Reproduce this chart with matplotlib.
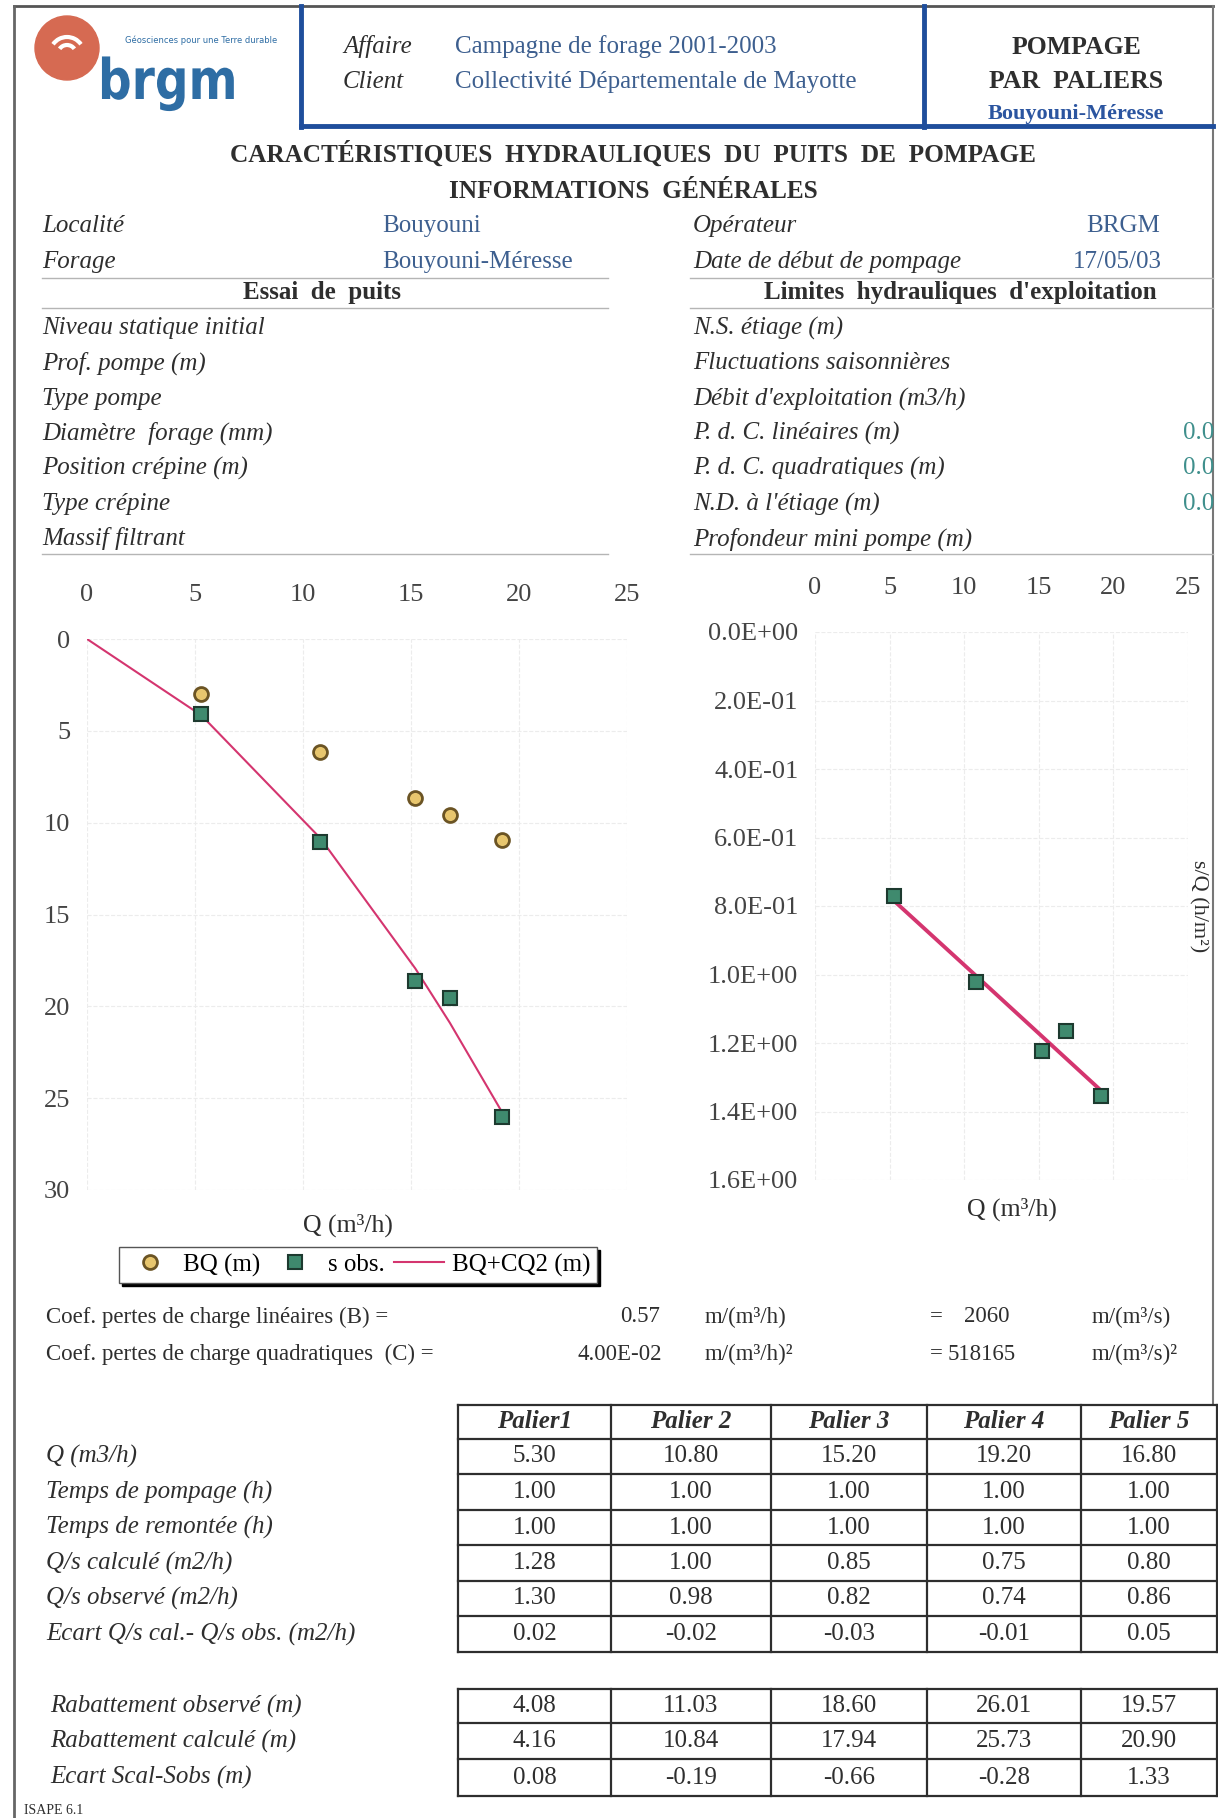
import matplotlib
matplotlib.use('Agg')
import matplotlib.pyplot as plt
from matplotlib.patches import Circle, Arc, PathPatch
from matplotlib.textpath import TextPath
from matplotlib.font_manager import FontProperties
from matplotlib.transforms import Affine2D

plt.rcParams['font.family'] = ['Liberation Serif', 'DejaVu Serif']

# ---- data ----
paliers = ['Palier1', 'Palier 2', 'Palier 3', 'Palier 4', 'Palier 5']
q = [5.30, 10.80, 15.20, 19.20, 16.80]
t_pompage = [1.00, 1.00, 1.00, 1.00, 1.00]
t_remontee = [1.00, 1.00, 1.00, 1.00, 1.00]
qs_calc = [1.28, 1.00, 0.85, 0.75, 0.80]
qs_obs = [1.30, 0.98, 0.82, 0.74, 0.86]
qs_ecart = [0.02, -0.02, -0.03, -0.01, 0.05]
rab_obs = [4.08, 11.03, 18.60, 26.01, 19.57]
rab_calc = [4.16, 10.84, 17.94, 25.73, 20.90]
rab_ecart = [0.08, -0.19, -0.66, -0.28, 1.33]

bq = [3.02, 6.16, 8.66, 10.94, 9.58]
curve_q = [0, 5.30, 10.80, 15.20, 16.80, 19.20]
curve_s = [0, 4.16, 10.84, 17.94, 20.90, 25.73]

sq_obs = [0.770, 1.021, 1.224, 1.355, 1.165]
sq_line_q = [5.30, 10.80, 15.20, 16.80, 19.20]
sq_line = [0.785, 1.004, 1.180, 1.244, 1.340]

left_labels = ['Niveau statique initial', 'Prof. pompe (m)', 'Type pompe',
               'Diamètre  forage (mm)', 'Position crépine (m)', 'Type crépine',
               'Massif filtrant']
right_labels = ['N.S. étiage (m)', 'Fluctuations saisonnières',
                "Débit d'exploitation (m3/h)", 'P. d. C. linéaires (m)',
                'P. d. C. quadratiques (m)', "N.D. à l'étiage (m)",
                'Profondeur mini pompe (m)']
right_values = ['', '', '', '0.0', '0.0', '0.0', '']
table1_labels = ['Q (m3/h)', 'Temps de pompage (h)', 'Temps de remontée (h)',
                 'Q/s calculé (m2/h)', 'Q/s observé (m2/h)',
                 'Ecart Q/s cal.- Q/s obs. (m2/h)']
table2_labels = ['Rabattement observé (m)', 'Rabattement calculé (m)',
                 'Ecart Scal-Sobs (m)']

W, H = 1218, 1818
fig = plt.figure(figsize=(W / 100, H / 100), dpi=100)
fig.patch.set_facecolor('white')

ov = fig.add_axes([0, 0, 1, 1])
ov.set_xlim(0, W)
ov.set_ylim(H, 0)
ov.axis('off')

dark = '#2e2e2e'
blue_txt = '#3d5f8f'
teal = '#3f8f8c'


def txt(x, y, s, **kw):
    kw.setdefault('va', 'center')
    kw.setdefault('color', dark)
    kw.setdefault('fontsize', 18)
    ov.text(x, y, s, **kw)


def hline(y, x0, x1, **kw):
    ov.plot([x0, x1], [y, y], **kw)


def vline(x, y0, y1, **kw):
    ov.plot([x, x], [y0, y1], **kw)


# ---- page frame and header ----
hline(6, 14, 1213, color='#555555', lw=2)
vline(14, 6, H, color='#666666', lw=2)
vline(1213, 6, 1403, color='#777777', lw=1.5)
blue = '#1f4e9c'
vline(301, 6, 127, color=blue, lw=3.5)
vline(924, 6, 127, color=blue, lw=3.5)
hline(126, 301, 1213, color=blue, lw=3.5)

ov.add_patch(Circle((67, 48), 32, color='#d66a52', zorder=3))
for r in (9, 17):
    ov.add_patch(Arc((67, 54), 2 * r, 2 * r, theta1=215, theta2=325,
                     color='white', lw=3, zorder=4))
logo = TextPath((0, 0), 'brgm', size=56,
                prop=FontProperties(family='DejaVu Sans', weight='bold'))
ov.add_patch(PathPatch(logo, color='#2e6da4', lw=0,
                       transform=Affine2D().scale(0.84, -1).translate(98, 99)
                       + ov.transData))
ov.text(125, 40, 'Géosciences pour une Terre durable', family='DejaVu Sans',
        fontsize=6, color='#2e6da4', va='center')

txt(343, 47, 'Affaire', style='italic')
txt(343, 82, 'Client', style='italic')
txt(455, 47, 'Campagne de forage 2001-2003', color=blue_txt)
txt(455, 82, 'Collectivité Départementale de Mayotte', color=blue_txt)
txt(1076, 47, 'POMPAGE', ha='center', weight='bold', fontsize=18.5)
txt(1076, 81, 'PAR  PALIERS', ha='center', weight='bold', fontsize=18.5)
txt(1076, 114, 'Bouyouni-Méresse', ha='center', weight='bold', fontsize=16,
    color='#2b55a0')

txt(633, 154, 'CARACTÉRISTIQUES  HYDRAULIQUES  DU  PUITS  DE  POMPAGE',
    ha='center', weight='bold', fontsize=18.2)
txt(633, 191, 'INFORMATIONS  GÉNÉRALES', ha='center', weight='bold',
    fontsize=18.2)

# ---- general information ----
txt(42, 226, 'Localité', style='italic')
txt(42, 262, 'Forage', style='italic')
txt(382, 226, 'Bouyouni', color=blue_txt)
txt(382, 262, 'Bouyouni-Méresse', color=blue_txt)
txt(693, 226, 'Opérateur', style='italic')
txt(693, 262, 'Date de début de pompage', style='italic')
txt(1160, 226, 'BRGM', color=blue_txt, ha='right')
txt(1162, 262, '17/05/03', color=blue_txt, ha='right')

for y in (278, 308, 554):
    hline(y, 42, 608, color='#b5b5b5', lw=1)
    hline(y, 690, 1213, color='#b5b5b5', lw=1)
txt(322, 293, 'Essai  de  puits', ha='center', weight='bold')
txt(960, 293, "Limites  hydrauliques  d'exploitation", ha='center',
    weight='bold')

row_y = [328, 363, 399, 433, 468, 504, 539]
for y, lab in zip(row_y, left_labels):
    txt(42, y, lab, style='italic')
for y, lab, val in zip(row_y, right_labels, right_values):
    txt(693, y, lab, style='italic')
    if val:
        txt(1183, y, val, color=teal)

# ---- drawdown chart ----
ax1 = fig.add_axes([87 / W, 1 - 1190 / H, (627 - 87) / W, (1190 - 639) / H])
ax1.patch.set_alpha(0)
ax1.plot(curve_q, curve_s, color='#d4356f', lw=1.5, zorder=2,
         label='BQ+CQ2 (m)')
ax1.plot(q, bq, ls='none', marker='o', ms=10, mfc='#e8c66e', mec='#6b5424',
         mew=2, zorder=3, label='BQ (m)')
ax1.plot(q, rab_obs, ls='none', marker='s', ms=10, mfc='#3f8a6e',
         mec='#1d3a2f', mew=1.5, zorder=3, label='s obs.')
ax1.set_xlim(0, 25)
ax1.set_ylim(30, 0)
ax1.set_xticks(range(0, 26, 5))
ax1.set_yticks(range(0, 31, 5))

ax2 = fig.add_axes([815 / W, 1 - 1180 / H, (1188 - 815) / W, (1180 - 632) / H])
ax2.patch.set_alpha(0)
ax2.plot(sq_line_q, sq_line, color='#d4356f', lw=2.8, zorder=2)
ax2.plot(q, sq_obs, ls='none', marker='s', ms=10.5, mfc='#3f8a6e',
         mec='#1d3a2f', mew=1.5, zorder=3)
ax2.set_xlim(0, 25)
ax2.set_ylim(1.6, 0)
ax2.set_xticks(range(0, 26, 5))
ax2.set_yticks([i * 0.2 for i in range(9)])
ax2.set_yticklabels(['{:.1E}'.format(i * 0.2) for i in range(9)])
ax2.yaxis.set_label_position('right')
ax2.set_ylabel('s/Q (h/m²)', rotation=270, fontsize=16, color=dark,
               labelpad=14)

for ax in (ax1, ax2):
    for sp in ax.spines.values():
        sp.set_visible(False)
    ax.xaxis.tick_top()
    ax.tick_params(length=0, labelsize=19, labelcolor='#444444')
    ax.tick_params(axis='x', pad=24)
    ax.tick_params(axis='y', pad=12)
    ax.grid(True, color='#ececec', ls='--', lw=0.8)
    ax.set_axisbelow(True)

txt(348, 1225, 'Q (m³/h)', ha='center', fontsize=18.5)
txt(1012, 1209, 'Q (m³/h)', ha='center', fontsize=18.5)

h, l = ax1.get_legend_handles_labels()
order = [1, 2, 0]
fig.legend([h[i] for i in order], [l[i] for i in order], loc='center',
           bbox_to_anchor=(358 / W, 1 - 1265 / H), ncol=3, fancybox=False,
           edgecolor='#555555', fontsize=18, handlelength=2.0,
           handletextpad=0.3, columnspacing=0.4, borderpad=0.25,
           shadow={'color': 'black', 'alpha': 1}, framealpha=1)

# ---- coefficients ----
txt(46, 1317, 'Coef. pertes de charge linéaires (B) =', fontsize=16.5)
txt(660, 1317, '0.57', ha='right', fontsize=16.5)
txt(705, 1317, 'm/(m³/h)', fontsize=16.5)
txt(930, 1317, '=', fontsize=16.5)
txt(964, 1317, '2060', fontsize=16.5)
txt(1092, 1317, 'm/(m³/s)', fontsize=16.5)
txt(46, 1354, 'Coef. pertes de charge quadratiques  (C) =', fontsize=16.5)
txt(662, 1354, '4.00E-02', ha='right', fontsize=16.5)
txt(705, 1354, 'm/(m³/h)²', fontsize=16.5)
txt(930, 1354, '=', fontsize=16.5)
txt(948, 1354, '518165', fontsize=16.5)
txt(1092, 1354, 'm/(m³/s)²', fontsize=16.5)

# ---- tables ----
cols = [458, 611, 771, 927, 1081, 1217]
grid_c = '#2e2e2e'


def draw_grid(rows):
    for y in rows:
        hline(y, cols[0], cols[-1], color=grid_c, lw=1.6)
    for x in cols:
        vline(x, rows[0], rows[-1], color=grid_c, lw=1.6)


rows1 = [1405, 1439, 1474, 1510, 1545, 1581, 1616, 1652]
draw_grid(rows1)
for j, p in enumerate(paliers):
    txt((cols[j] + cols[j + 1]) / 2, (rows1[0] + rows1[1]) / 2, p,
        ha='center', style='italic', weight='bold')
table1 = [q, t_pompage, t_remontee, qs_calc, qs_obs, qs_ecart]
for i, (lab, vals) in enumerate(zip(table1_labels, table1)):
    yc = (rows1[i + 1] + rows1[i + 2]) / 2
    txt(46, yc, lab, style='italic')
    for j, v in enumerate(vals):
        txt((cols[j] + cols[j + 1]) / 2, yc, '%.2f' % v, ha='center')

rows2 = [1689, 1723, 1759, 1796]
draw_grid(rows2)
table2 = [rab_obs, rab_calc, rab_ecart]
for i, (lab, vals) in enumerate(zip(table2_labels, table2)):
    yc = (rows2[i] + rows2[i + 1]) / 2
    txt(50, yc, lab, style='italic')
    for j, v in enumerate(vals):
        txt((cols[j] + cols[j + 1]) / 2, yc, '%.2f' % v, ha='center')

txt(24, 1810, 'ISAPE 6.1', fontsize=10)

fig.savefig('out.png', dpi=100, facecolor='white')
